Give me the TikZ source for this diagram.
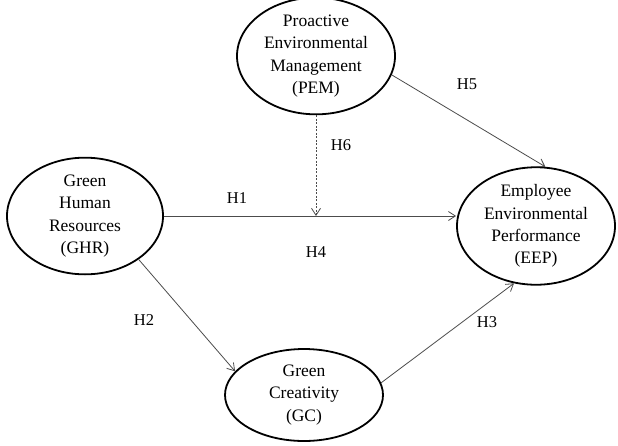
\documentclass[tikz,border=0pt]{standalone}
\usepackage{fontspec}
\setmainfont{Liberation Serif}
\usetikzlibrary{shapes.geometric,arrows.meta}
\begin{document}
\begin{tikzpicture}[x=1pt,y=-1pt,
  construct/.style={draw=black,line width=1.8pt,ellipse,inner sep=0pt,
    font=\fontsize{17.5}{22.4}\selectfont,align=center},
  link/.style={draw=black!70,line width=0.8pt,-{Straight Barb[length=7pt,width=9pt]}},
  lbl/.style={font=\fontsize{16.5}{20}\selectfont,inner sep=0pt}]
\useasboundingbox (0,0) rectangle (618,445);
\fill[white] (0,0) rectangle (618,445);
\node[construct,minimum width=158pt,minimum height=104pt] (pem) at (316,56)
  {Proactive\\Environmental\\Management\\(PEM)};
\node[construct,minimum width=156pt,minimum height=92pt] (ghr) at (85,216)
  {Green\\Human\\Resources\\(GHR)};
\node[construct,minimum width=158pt,minimum height=88pt] (eep) at (536,226)
  {Employee\\Environmental\\Performance\\(EEP)};
\node[construct,minimum width=158pt,minimum height=92pt] (gc) at (304,395)
  {Green\\Creativity\\(GC)};
\coordinate (mod) at (316,216);
\draw[link] (ghr.east |- 0,216) -- (eep.west |- 0,216);
\draw[link,dash pattern=on 2pt off 1.5pt] (pem.south) -- (mod);
\draw[link] (pem.-14) -- (eep.81);
\draw[link] (ghr.-39) -- (gc.161);
\draw[link] (gc.9) -- (eep.249);
\node[lbl] (h1) at (237,198) {H1};
\node[lbl] (h4) at (316,252) {H4};
\node[lbl] (h6) at (341,145) {H6};
\node[lbl] (h5) at (467,84) {H5};
\node[lbl] (h2) at (144,320) {H2};
\node[lbl] (h3) at (487,322) {H3};
\end{tikzpicture}
\end{document}
